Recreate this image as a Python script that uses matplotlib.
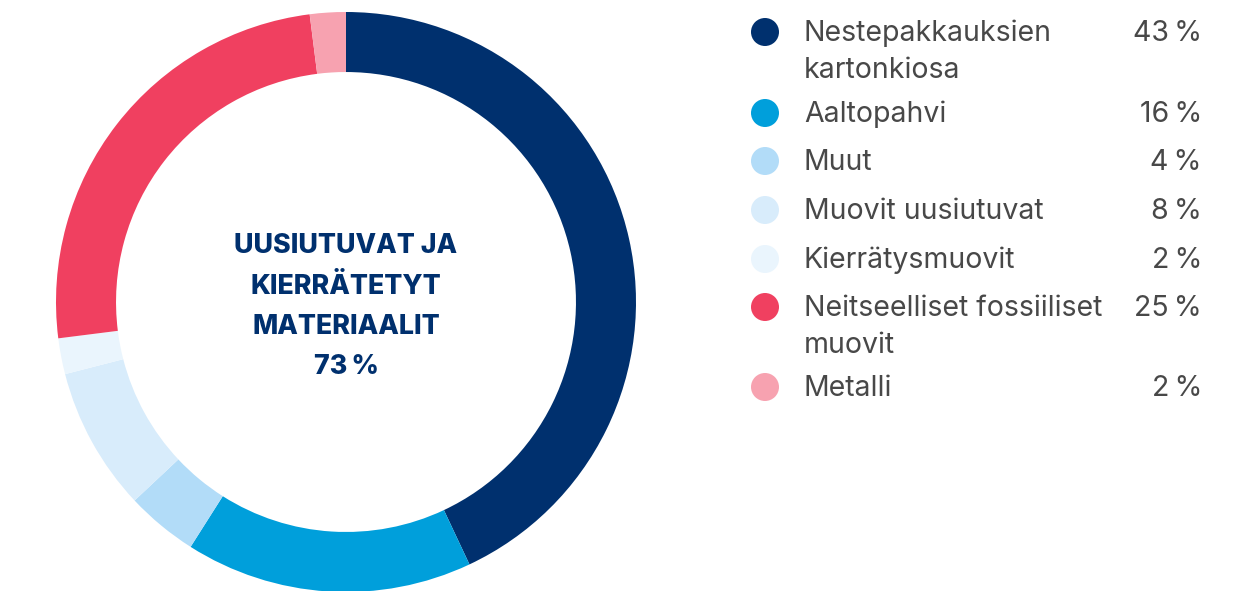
import matplotlib
matplotlib.use("Agg")
import matplotlib.pyplot as plt
from matplotlib.patches import Circle

labels = ["Nestepakkauksien\nkartonkiosa", "Aaltopahvi", "Muut", "Muovit uusiutuvat",
          "Kierrätysmuovit", "Neitseelliset fossiiliset\nmuovit", "Metalli"]
values = [43, 16, 4, 8, 2, 25, 2]
colors = ["#00306E", "#009FDB", "#B2DCF8", "#D8ECFB", "#EAF5FD", "#F04060", "#F7A2B0"]
center_text = "UUSIUTUVAT JA\nKIERRÄTETYT\nMATERIAALIT\n73\u2009%"
legend_y = [32, 113, 161, 210, 259, 307, 387]

W, H = 1256, 591
fig = plt.figure(figsize=(W / 100, H / 100), dpi=100)
fig.patch.set_facecolor("white")

cx, cy, R = 346, 302, 290
ax = fig.add_axes([(cx - R) / W, (H - cy - R) / H, 2 * R / W, 2 * R / H])
ax.pie(values, colors=colors, startangle=90, counterclock=False, radius=1.0,
       wedgeprops=dict(width=0.207, edgecolor="none", linewidth=0))
ax.set_xlim(-1, 1)
ax.set_ylim(-1, 1)
ax.set_aspect("equal")
ax.axis("off")

for i, ln in enumerate(center_text.split("\n")):
    ax.text(0, (302 - (246 + 40.5 * i)) / R, ln, ha="center", va="center",
            fontsize=19.3, fontweight="heavy", color="#00306E",
            family=["Inter", "DejaVu Sans"])

# legend
lax = fig.add_axes([0, 0, 1, 1])
lax.set_xlim(0, W)
lax.set_ylim(H, 0)
lax.axis("off")
fam = ["Inter", "DejaVu Sans"]
for lab, val, col, y in zip(labels, values, colors, legend_y):
    lax.add_patch(Circle((765, y), 14, color=col, lw=0))
    for j, part in enumerate(lab.split("\n")):
        lax.text(804, y + 9 + 37 * j, part, ha="left", va="baseline", fontsize=20.5,
                 color="#484848", family=fam, fontweight="normal")
    lax.text(1202, y + 9, f"{val}\u2009%", ha="right", va="baseline", fontsize=20.5,
             color="#484848", family=fam, fontweight="normal")

fig.savefig("out.png", dpi=100, facecolor="white")
